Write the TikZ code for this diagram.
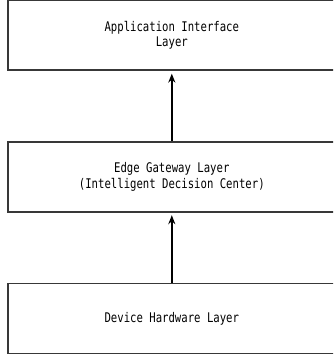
\documentclass[tikz,border=0pt]{standalone}
\usepackage{fontspec}
\newfontfamily\layerfont[FakeStretch=0.8]{DejaVu Sans Mono}
\usetikzlibrary{positioning, arrows.meta}
\tikzstyle{layer} = [rectangle, minimum width=328pt, minimum height=70pt, text centered, align=center, draw=black!78, line width=1.6pt, text=black, font=\layerfont\fontsize{13.3}{15.5}\selectfont]
\tikzstyle{arrow} = [line width=1.7pt, -{Stealth[length=9pt,width=7pt]}, shorten >=2.5pt]

\begin{document}
\begin{tikzpicture}[x=1pt, y=1pt, node distance=70pt]
\useasboundingbox (0,0) rectangle (333,354);
\clip (0,0) rectangle (333,354);
% layers, top to bottom
\node (app) [layer, anchor=north west] at (7,354.5) {Application Interface\\Layer};
\node (edge) [layer, below=of app] {Edge Gateway Layer\\(Intelligent Decision Center)};
\node (dev) [layer, below=of edge] {Device Hardware Layer};
% data flows upwards
\draw [arrow] (dev) -- (edge);
\draw [arrow] (edge) -- (app);
\end{tikzpicture}
\end{document}
